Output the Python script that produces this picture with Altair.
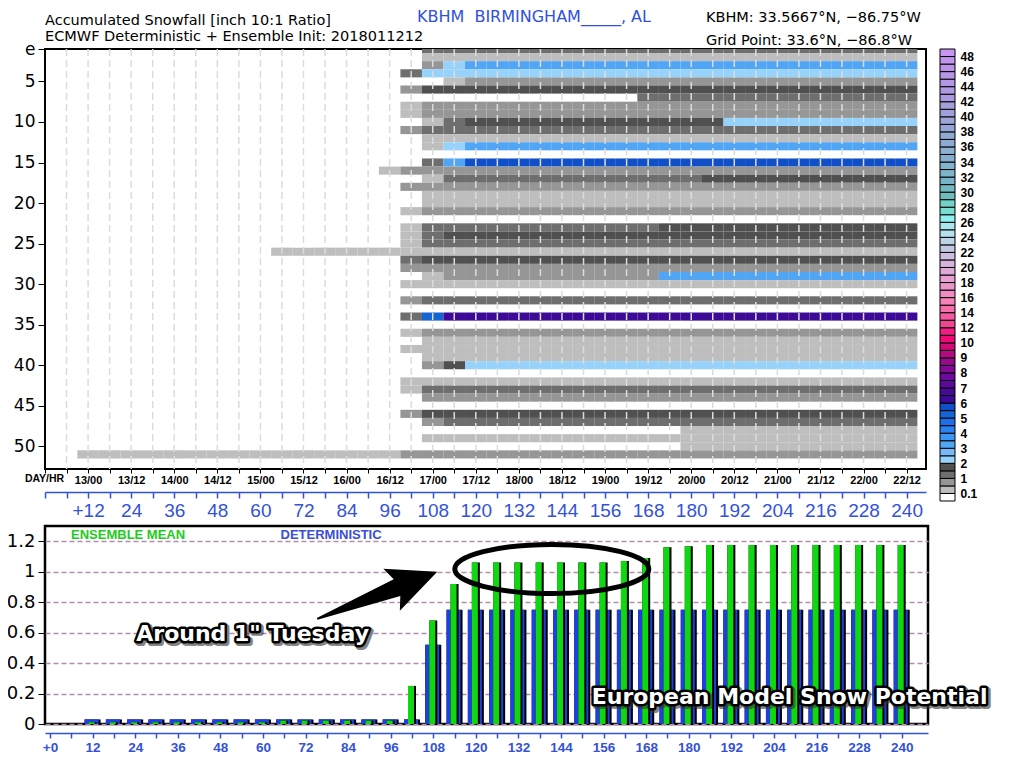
import altair as alt
import pandas as pd

# ---------------- data ----------------
STEPS = list(range(6, 241, 6))          # forecast hours (columns / bars)
AXIS_TICKS = list(range(0, 241, 6))     # tick positions
Y_TICKS_TOP = [1, 5, 10, 15, 20, 25, 30, 35, 40, 45, 50]
Y_TICKS_BOTTOM = [0, 0.2, 0.4, 0.6, 0.8, 1.0, 1.2]

DETERMINISTIC = [0.0,
                 0.03, 0.03, 0.03, 0.03, 0.03, 0.03, 0.03, 0.03,
                 0.03, 0.03, 0.03, 0.03, 0.03, 0.03, 0.03, 0.03,
                 0.52,
                 0.75, 0.75, 0.75, 0.75, 0.75, 0.75, 0.75, 0.75, 0.75, 0.75, 0.75,
                 0.75, 0.75, 0.75, 0.75, 0.75, 0.75, 0.75, 0.75, 0.75, 0.75, 0.75]

ENSEMBLE_MEAN = [0.0,
                 0.012, 0.012, 0.012, 0.012, 0.012, 0.012, 0.012, 0.012, 0.012,
                 0.022, 0.022, 0.022, 0.022, 0.022, 0.022,
                 0.25, 0.68, 0.92,
                 1.06, 1.06, 1.06, 1.06, 1.06, 1.06, 1.06,
                 1.07, 1.09, 1.16, 1.167,
                 1.175, 1.175, 1.175, 1.175, 1.175, 1.175, 1.175, 1.175, 1.175, 1.175]

# colour-bar classes, bottom (below 0.1) to top (above 48)
COLORBAR_COLORS = [
    "#ffffff", "#bebebe", "#969696", "#6e6e6e", "#505050",
    "#96d2fa", "#78b9fa", "#50a5f5", "#3c96f5", "#2882f0", "#1e6eeb", "#1464d2", "#0f50c8",
    "#3c0a96", "#460a96", "#5a0a9b", "#6e0aa0", "#820a96", "#960a8c", "#b40a82", "#d20a78",
    "#f00a78", "#f01e82", "#f04691", "#f55aa0", "#f56eaa", "#f582b9", "#f08cc3", "#eb96c8",
    "#e6a0d2", "#dcaad7", "#d7b4dc", "#cdbee1", "#c3c8e1", "#bed2e6", "#b4e1eb", "#aae6eb",
    "#8cf0f0", "#78dcd2", "#73d2c8", "#6ebebe", "#73b9c3", "#78b4c8", "#7db4c8", "#82b4cd",
    "#87afcd", "#8cafd2", "#8caad2", "#91aad2", "#96a5d7", "#9ba5d7", "#a0a0dc", "#a5a0dc",
    "#aa9be0", "#ad9ae0", "#b496e6", "#b896e6", "#bb93e6", "#c394eb", "#c896f0"]
COLORBAR_LABELS = ["0.1", "1", "2", "3", "4", "5", "6", "7", "8", "9", "10",
                   "12", "14", "16", "18", "20", "22", "24", "26", "28", "30",
                   "32", "34", "36", "38", "40", "42", "44", "46", "48"]

# per member row: (first forecast hour of the run, colour class); class holds until next run
MEMBER_RUNS = [
    [(108, 3)],                               # e / row 1
    [(108, 1)],
    [(108, 2), (114, 5), (120, 7)],
    [(102, 3), (108, 5)],
    [(114, 1), (120, 2)],                     # 5
    [(102, 2), (108, 4)],
    [(168, 3)],
    [(102, 1), (108, 2)],
    [(102, 1), (108, 2)],
    [(108, 1), (114, 3), (120, 4), (192, 5)],  # 10
    [(102, 2), (108, 3)],
    [(108, 1)],
    [(108, 1), (114, 5), (120, 7)],
    [],
    [(108, 3), (114, 7), (120, 12)],          # 15
    [(96, 1), (102, 2)],
    [(108, 1), (114, 3), (186, 4)],
    [(102, 2)],
    [(108, 1)],
    [(108, 1)],                               # 20
    [(102, 1), (108, 2)],
    [],
    [(102, 1), (108, 3), (174, 4)],
    [(102, 1), (108, 3), (114, 4)],
    [(102, 1), (108, 3)],                     # 25
    [(66, 1)],
    [(102, 3), (108, 4)],
    [(102, 2)],
    [(108, 1), (114, 2), (174, 7)],
    [(102, 1)],                               # 30
    [],
    [(102, 2), (108, 3)],
    [],
    [(102, 3), (108, 11), (114, 13)],
    [],                                       # 35
    [(102, 1), (108, 2)],
    [(108, 1)],
    [(102, 1)],
    [(108, 1)],
    [(108, 2), (114, 4), (120, 5)],           # 40
    [],
    [(102, 1)],
    [(102, 1), (108, 3)],
    [(108, 2)],
    [],                                       # 45
    [(102, 2), (108, 4)],
    [(108, 2), (114, 3)],
    [(180, 1)],
    [(108, 1)],
    [(180, 1)],                               # 50
    [(12, 1), (102, 2)],
]

# ---------------- tables ----------------
cells = []
for row, runs in enumerate(MEMBER_RUNS, start=1):
    for t in STEPS:
        cls = 0
        for start, c in runs:
            if t >= start:
                cls = c
        if cls > 0:
            cells.append({"t": t, "row": row, "color": COLORBAR_COLORS[cls]})
cells_df = pd.DataFrame(cells)
steps_df = pd.DataFrame({"t": STEPS})
bars_df = pd.DataFrame({"t": STEPS, "det": DETERMINISTIC, "ens": ENSEMBLE_MEAN})
legend_df = pd.DataFrame({"i": list(range(len(COLORBAR_COLORS))), "color": COLORBAR_COLORS})
ONE = pd.DataFrame({"k": [0]})

AXIS_BLUE = "#3352d6"
BAR_BLUE = "#1f3fe0"
BAR_GREEN = "#10d810"

# ---------------- top panel ----------------
xs_top = alt.Scale(domain=[0, 245.4], nice=False, zero=False)
ys_top = alt.Scale(domain=[1, 52.8], nice=False, zero=False, reverse=True)

date_axis = alt.Axis(
    orient="bottom", offset=0, values=AXIS_TICKS, title=None, grid=False, domain=False,
    labelExpr="datum.value % 12 == 0 && datum.value > 0 ? (format(12 + floor((datum.value + 12) / 24), 'd') + '/' + ((datum.value + 12) % 24 == 0 ? '00' : '12')) : ''",
    tickSize=4, tickColor="black", labelColor="black", labelFont="Liberation Sans",
    labelFontSize=11, labelFontWeight="bold", labelPadding=1, labelFlush=False, labelOverlap=False)

blue_axis_top = alt.Axis(
    orient="bottom", offset=23, values=AXIS_TICKS, title=None, grid=False,
    labelExpr="datum.value % 12 == 0 && datum.value > 0 ? (datum.value == 12 ? '+12\u2007' : datum.label) : ''",
    domainColor=AXIS_BLUE, domainWidth=1.5, tickColor=AXIS_BLUE, tickSize=6, tickWidth=1.5,
    labelColor=AXIS_BLUE, labelFont="Liberation Sans", labelFontSize=19, labelPadding=3,
    labelFlush=False, labelOverlap=False)

y_axis_top = alt.Axis(
    orient="left", values=Y_TICKS_TOP, title=None, grid=False, domain=False,
    labelExpr="datum.value == 1 ? 'e' : datum.label",
    tickSize=7, tickColor="black", labelColor="black", labelFont="DejaVu Sans",
    labelFontSize=17, labelPadding=3, labelFlush=False, labelOverlap=False)

heat = alt.Chart(cells_df).mark_rect(clip=True).transform_calculate(
    x0="datum.t - 3", x1="datum.t + 3", y0="datum.row - 0.5", y1="datum.row + 0.5"
).encode(
    x=alt.X("x0:Q", scale=xs_top, axis=date_axis),
    x2="x1:Q",
    y=alt.Y("y0:Q", scale=ys_top, axis=y_axis_top),
    y2="y1:Q",
    color=alt.Color("color:N", scale=None),
)

grid = alt.Chart(steps_df).mark_rule(color="#dcdcdc", strokeWidth=1.5, strokeDash=[7, 4]).encode(
    x=alt.X("t:Q", scale=xs_top, axis=blue_axis_top))


def note(text, x, y, xs, ys, **mark):
    return alt.Chart(ONE).mark_text(text=text, **mark).encode(
        x=alt.XDatum(x, type="quantitative", scale=xs, axis=None),
        y=alt.YDatum(y, type="quantitative", scale=ys, axis=None))


hdr = dict(align="left", baseline="alphabetic", font="DejaVu Sans")
top_texts = [
    note("Accumulated Snowfall [inch 10:1 Ratio]", 0, -2.0, xs_top, ys_top, fontSize=14.5, color="black", **hdr),
    note("ECMWF Deterministic + Ensemble Init: 2018011212", 0, -0.02, xs_top, ys_top, fontSize=14.5, color="black", **hdr),
    note("KBHM\u00a0\u00a0BIRMINGHAM_____, AL", 103.6, -2.29, xs_top, ys_top, fontSize=16, color="#3050dd", **hdr),
    note("KBHM: 33.5667°N, \u221286.75°W", 184.1, -2.29, xs_top, ys_top, fontSize=14.5, color="black", **hdr),
    note("Grid Point: 33.6°N, \u221286.8°W", 184.1, 0.47, xs_top, ys_top, fontSize=14.5, color="black", **hdr),
    note("DAY/HR", -5.6, 54.4, xs_top, ys_top, fontSize=10.5, fontWeight="bold", color="black",
         align="left", baseline="alphabetic", font="Liberation Sans"),
]

top = alt.layer(heat, grid, *top_texts).resolve_axis(x="independent", y="independent").properties(
    width=881, height=420, view=alt.ViewBackground(stroke="black", strokeWidth=2))

legend = alt.Chart(legend_df).mark_rect(stroke="black", strokeWidth=1).transform_calculate(
    i1="datum.i + 1", x0="0", x1="1"
).encode(
    x=alt.X("x0:Q", scale=alt.Scale(domain=[0, 1], nice=False), axis=None),
    x2="x1:Q",
    y=alt.Y("i:Q", scale=alt.Scale(domain=[0, 60], nice=False, zero=False),
            axis=alt.Axis(orient="right", values=list(range(1, 60, 2)), title=None, grid=False,
                          domain=False, ticks=False, labelPadding=5, labelFont="Liberation Sans",
                          labelFontSize=12, labelFontWeight="bold", labelColor="black",
                          labelFlush=False, labelOverlap=False,
                          labelExpr="[" + ",".join("'%s'" % s for s in COLORBAR_LABELS) + "][(datum.value - 1) / 2]")),
    y2="i1:Q",
    color=alt.Color("color:N", scale=None),
).properties(width=15, height=452, view=alt.ViewBackground(stroke="transparent"))

# ---------------- bottom panel ----------------
xs_bot = alt.Scale(domain=[0, 246], nice=False, zero=False)
ys_bot = alt.Scale(domain=[0, 1.3], nice=False)

x_axis_bot = alt.Axis(
    orient="bottom", offset=9, values=AXIS_TICKS, title=None, grid=False,
    labelExpr="datum.value % 12 == 0 ? (datum.value == 0 ? '+0' : datum.label) : ''",
    domainColor=AXIS_BLUE, domainWidth=1.5, tickColor=AXIS_BLUE, tickSize=5, tickWidth=1.5,
    labelColor=AXIS_BLUE, labelFont="Liberation Sans", labelFontSize=13.5, labelFontWeight="bold",
    labelPadding=2, labelFlush=False, labelOverlap=False)

y_axis_bot = alt.Axis(
    orient="left", values=Y_TICKS_BOTTOM, format="~g", title=None, domain=False,
    grid=True, gridColor="#b48cac", gridDash=[5, 3], gridWidth=1.3,
    tickSize=7, tickColor="black", labelColor="black", labelFont="DejaVu Sans",
    labelFontSize=18, labelPadding=3, labelFlush=False, labelOverlap=False)

base = alt.Chart(bars_df)
det_shadow = base.mark_bar(color="black", width=16, orient="vertical").encode(
    x=alt.X("t:Q", scale=xs_bot, axis=x_axis_bot), y=alt.Y("det:Q", scale=ys_bot, axis=y_axis_bot))
det_bar = base.mark_bar(color=BAR_BLUE, width=14, xOffset=-1, orient="vertical").encode(
    x=alt.X("t:Q", scale=xs_bot, axis=None), y=alt.Y("det:Q", scale=ys_bot, axis=None))
ens_shadow = base.mark_bar(color="black", width=8, orient="vertical").encode(
    x=alt.X("t:Q", scale=xs_bot, axis=None), y=alt.Y("ens:Q", scale=ys_bot, axis=None))
ens_bar = base.mark_bar(color=BAR_GREEN, width=6, xOffset=-1, orient="vertical").encode(
    x=alt.X("t:Q", scale=xs_bot, axis=None), y=alt.Y("ens:Q", scale=ys_bot, axis=None))

leg_style = dict(align="center", baseline="alphabetic", font="Liberation Sans", fontSize=13, fontWeight="bold")
bottom_texts = [
    note("ENSEMBLE MEAN", 22.0, 1.217, xs_bot, ys_bot, color="#22cc22", **leg_style),
    note("DETERMINISTIC", 79.2, 1.217, xs_bot, ys_bot, color="#3a4ed8", **leg_style),
]

ARROW = "M-1,-0.015 L0.33,-0.14 L0.24,-0.35 L1,0 L0.24,0.35 L0.33,0.14 L-1,0.015 Z"
ELLIPSE = "M-1,0 A1,0.253,0,1,0,1,0 A1,0.253,0,1,0,-1,0 Z"


def shape(path, x, y, **mark):
    return alt.Chart(ONE).mark_point(shape=path, **mark).encode(
        x=alt.XDatum(x, type="quantitative", scale=xs_bot, axis=None),
        y=alt.YDatum(y, type="quantitative", scale=ys_bot, axis=None))


arrow = shape(ARROW, 92.2, 0.845, size=16641, angle=338.6, filled=True, color="black", opacity=1)
ellipse = shape(ELLIPSE, 141.4, 1.018, size=37636, filled=False, color="black", strokeWidth=5, opacity=1)

big = dict(align="center", baseline="middle", font="DejaVu Sans", fontSize=22, fontWeight="bold")
callouts = []
for txt, hx, vy in [("Around 1\" Tuesday", 57.1, 0.589), ("European Model Snow Potential", 208.4, 0.179)]:
    callouts.append(note(txt, hx, vy, xs_bot, ys_bot, fill="#333333", stroke="#333333", strokeWidth=6,
                         strokeJoin="round", dx=2, dy=2, opacity=0.6, **big))
    callouts.append(note(txt, hx, vy, xs_bot, ys_bot, fill="black", stroke="black", strokeWidth=5,
                         strokeJoin="round", **big))
    callouts.append(note(txt, hx, vy, xs_bot, ys_bot, fill="white", **big))

bottom = alt.layer(det_shadow, det_bar, ens_shadow, ens_bar, *bottom_texts, arrow, ellipse, *callouts
                   ).resolve_axis(x="independent", y="independent").properties(
    width=883, height=198, view=alt.ViewBackground(stroke="black", strokeWidth=2.5))

chart = alt.concat(top, legend, bottom, columns=2, spacing={"row": 25, "column": 12},
                   bounds="flush", align="each").properties(
    padding={"left": -3, "top": 0, "right": 4, "bottom": 4},
    background="white",
)

chart.save("out.html", embed_options={"renderer": "svg", "actions": False})
